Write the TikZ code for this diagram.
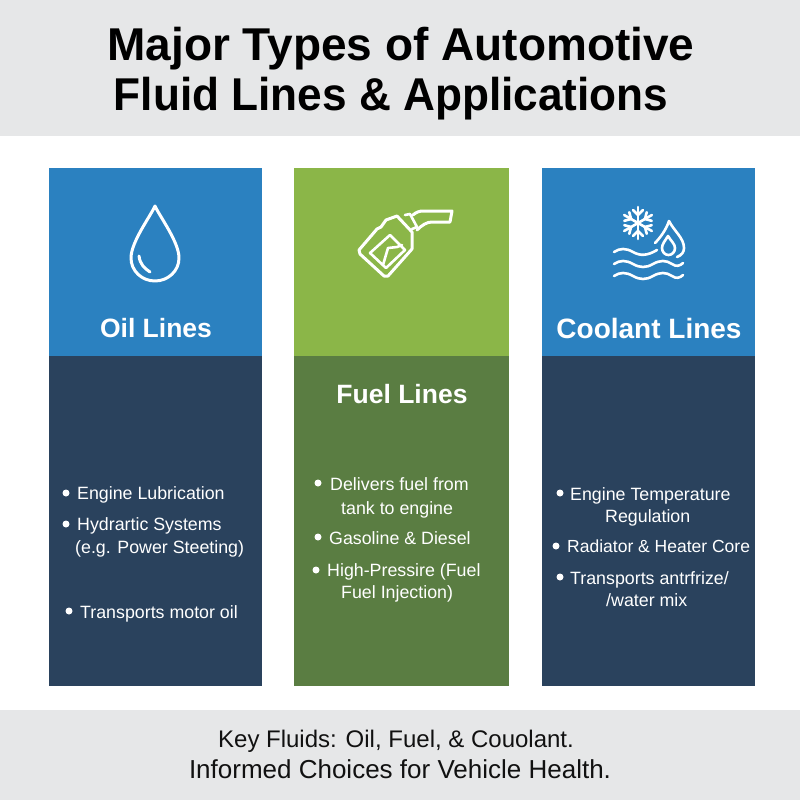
\documentclass[tikz,border=0pt]{standalone}
\usepackage{fontspec}
\setmainfont{Liberation Sans}
\newfontfamily\titlefont{Liberation Sans}
\definecolor{bandgray}{HTML}{E6E7E8}
\definecolor{capblue}{HTML}{2B81C0}
\definecolor{navy}{HTML}{2A425D}
\definecolor{capgreen}{HTML}{8BB648}
\definecolor{bodygreen}{HTML}{5A7D42}
\definecolor{inktext}{HTML}{111111}
\tikzset{
  band/.style={fill=bandgray,draw=none},
  icon/.style={draw=white,line width=3pt,line cap=round,line join=round,fill=none},
  thinicon/.style={draw=white,line width=2.6pt,line cap=round,line join=round,fill=none},
  head/.style={text=white,font=\fontsize{26.5}{30}\selectfont\bfseries,anchor=center,inner sep=0pt},
  item/.style={text=white,font=\fontsize{17.8}{22}\selectfont,anchor=base west,inner sep=0pt},
  dot/.style={fill=white,draw=none,circle,minimum size=7pt,inner sep=0pt},
  ttl/.style={text=black,font=\titlefont\fontsize{46}{50}\selectfont\bfseries,anchor=base,inner sep=0pt},
  foot/.style={text=inktext,anchor=base,inner sep=0pt}
}
\begin{document}
\begin{tikzpicture}[x=1pt,y=-1pt]
\useasboundingbox (0,0) rectangle (800,800);
\fill[white] (0,0) rectangle (800,800);
\fill[band] (0,0) rectangle (800,136);
\fill[band] (0,710) rectangle (800,800);
\fill[capblue] (49,168) rectangle (262,356);
\fill[navy] (49,356) rectangle (262,686);
\fill[capgreen] (294,168) rectangle (509,356);
\fill[bodygreen] (294,356) rectangle (509,686);
\fill[capblue] (542,168) rectangle (755,356);
\fill[navy] (542,356) rectangle (755,686);
\node[ttl] (t1) at (401,60) {Major Types of Automotive};
\node[ttl,xscale=0.96,transform shape] (t2) at (391,110) {Fluid Lines \& Applications};
% drop
\draw[icon] (155,206) .. controls (150,217) and (131,242) .. (131,258) .. controls (131,271) and (142,281) .. (155,281) .. controls (168,281) and (179,271) .. (179,258) .. controls (179,242) and (160,217) .. (155,206) -- cycle;
\draw[icon] (139,256) .. controls (140,264) and (144,268) .. (150,272);
% nozzle
\draw[icon] (359,250) -- (377,229) -- (381,227) -- (386,220) -- (397,216) -- (412,232) -- (412,249) -- (388,276) -- (384,276) -- (360,254) -- cycle;
\draw[thinicon] (370,253) -- (390,235) -- (405,250) -- (386,268) -- cycle;
\draw[thinicon] (383,265) -- (388,248) -- (397,247) -- (402,245);
\draw[thinicon] (405,215) -- (410,214) -- (417,227) -- (412,229);
\draw[icon] (413,215) .. controls (416,212) and (420,211) .. (423,211) -- (452,211) -- (450,222) -- (432,222) .. controls (427,222) and (422,225) .. (417,230);
% snowflake
\begin{scope}[shift={(638,223)}]
\foreach \a in {90,150,210,270,330,30}{
  \draw[thinicon,rotate=\a] (0,0) -- (16,0);
  \draw[thinicon,rotate=\a] (8,0) -- (13,-5);
  \draw[thinicon,rotate=\a] (8,0) -- (13,5);
}
\end{scope}
% coolant drop
\draw[thinicon] (655,243) .. controls (660,238) and (666,230) .. (669,221) .. controls (674,231) and (684,238) .. (684,248) .. controls (684,252) and (682,255) .. (677,257);
\draw[thinicon] (668,236) .. controls (665,241) and (662,244) .. (662,248) .. controls (662,252) and (665,255) .. (668.5,255) .. controls (672,255) and (675,252) .. (675,248) .. controls (675,244) and (671,241) .. (668,236) -- cycle;
% waves
\draw[thinicon] (614,252) .. controls (620,248) and (626,248) .. (633,252) .. controls (640,256) and (647,256) .. (657,250);
\draw[thinicon] (614,264) .. controls (620,260) and (626,260) .. (633,264) .. controls (640,268) and (646,268) .. (653,264) .. controls (660,260) and (666,260) .. (672,264) .. controls (676,267) and (680,266) .. (683,263);
\draw[thinicon] (614,276) .. controls (620,272) and (626,272) .. (633,276) .. controls (640,280) and (646,280) .. (653,276) .. controls (660,272) and (666,272) .. (672,276) .. controls (676,279) and (680,278) .. (683,275);
\node[head] (h1) at (156,328) {Oil Lines};
\node[head] (h2) at (402,394) {Fuel Lines};
\node[head,font=\fontsize{28}{30}\selectfont\bfseries] (h3) at (649,328) {Coolant Lines};
% column 1
\node[dot] (a) at (66,493) {};
\node[item] (a1) at (77,499) {Engine Lubrication};
\node[dot] (b) at (66,524) {};
\node[item] (b1) at (77,530) {Hydrartic Systems};
\node[item] (b2) at (75,553) {(e.g. Power Steeting)};
\node[dot] (c) at (69,611) {};
\node[item] (c1) at (80,618) {Transports motor oil};
% column 2
\node[dot] (d) at (318,483) {};
\node[item] (d1) at (330,490) {Delivers fuel from};
\node[item] (d2) at (341,514) {tank to engine};
\node[dot] (e) at (318,537) {};
\node[item] (e1) at (329,544) {Gasoline \& Diesel};
\node[dot] (f) at (316,570) {};
\node[item] (f1) at (327,576) {High-Pressire (Fuel};
\node[item] (f2) at (341,598) {Fuel Injection)};
% column 3
\node[dot] (g) at (560,493) {};
\node[item] (g1) at (570,500) {Engine Temperature};
\node[item] (g2) at (605,522) {Regulation};
\node[dot] (h) at (556,546) {};
\node[item,font=\fontsize{17.5}{22}\selectfont] (h1b) at (567,552) {Radiator \& Heater Core};
\node[dot] (i) at (560,577) {};
\node[item] (i1) at (570,584) {Transports antrfrize/};
\node[item] (i2) at (606,606) {/water mix};
\node[foot,font=\fontsize{24}{26}\selectfont] (f1a) at (396,747) {Key Fluids: Oil, Fuel, \& Couolant.};
\node[foot,font=\fontsize{26}{28}\selectfont] (f2a) at (400,778) {Informed Choices for Vehicle Health.};
\end{tikzpicture}
\end{document}
